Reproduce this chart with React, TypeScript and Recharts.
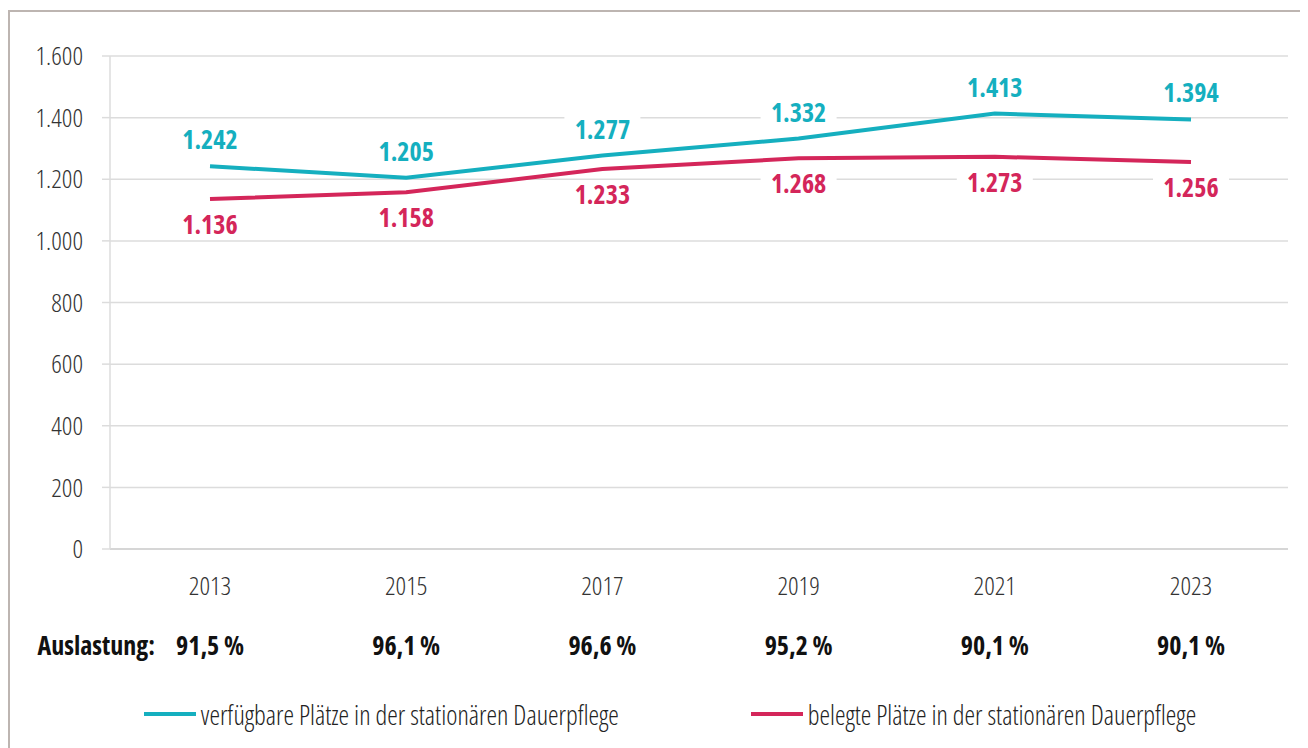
import React from "react";
import { LineChart, Line, XAxis, YAxis, CartesianGrid, Legend, LabelList } from "recharts";

const years = ["2013", "2015", "2017", "2019", "2021", "2023"];
const availablePlaces = [1242, 1205, 1277, 1332, 1413, 1394];
const occupiedPlaces = [1136, 1158, 1233, 1268, 1273, 1256];
const utilization = ["91,5 %", "96,1 %", "96,6 %", "95,2 %", "90,1 %", "90,1 %"];
const yTicks = [0, 200, 400, 600, 800, 1000, 1200, 1400, 1600];

const TEAL = "#15afbf";
const RED = "#d4265a";
const FONT = "'Open Sans', sans-serif";

const data = years.map((year, i) => ({
    year,
    available: availablePlaces[i],
    occupied: occupiedPlaces[i],
    utilization: utilization[i],
}));

const fmt = (v: number) => String(v).replace(/\B(?=(\d{3})+(?!\d))/g, ".");

// eslint-disable-next-line @typescript-eslint/no-explicit-any
const YearTick = ({ x, y, payload, index }: any) => (
    <g>
        <text x={x} y={y + 44} textAnchor="middle" fill="#333" fontSize={26} fontWeight={300}
            style={{ fontStretch: "condensed" }} fontFamily={FONT}>
            {payload.value}
        </text>
        <text x={x} y={y + 104} textAnchor="middle" fill="#111" fontSize={26} fontWeight={700}
            style={{ fontStretch: "condensed" }} fontFamily={FONT}>
            {data[index]?.utilization}
        </text>
        {index === 0 && (
            <text x={x - 55} y={y + 104} textAnchor="end" fill="#111" fontSize={26} fontWeight={700}
                style={{ fontStretch: "condensed" }} fontFamily={FONT}>
                Auslastung:
            </text>
        )}
    </g>
);

const makeLabel = (color: string, dy: number) => {
    // eslint-disable-next-line @typescript-eslint/no-explicit-any
    return ({ x, y, value }: any) => (
        <g>
            <rect x={x - 38} y={y + dy - 15} width={76} height={30} fill="#fff" />
            <text x={x} y={y + dy + 9} textAnchor="middle" fill={color} fontSize={26} fontWeight={700}
                style={{ fontStretch: "condensed" }} fontFamily={FONT}>
                {fmt(value)}
            </text>
        </g>
    );
};

const LegendContent = () => (
    <div style={{ display: "flex", justifyContent: "center", gap: 132, fontFamily: FONT, fontSize: 26.7, fontWeight: 300, fontStretch: "condensed", color: "#222", paddingLeft: 22 }}>
        {[
            { color: TEAL, text: "verfügbare Plätze in der stationären Dauerpflege" },
            { color: RED, text: "belegte Plätze in der stationären Dauerpflege" },
        ].map((item) => (
            <div key={item.text} style={{ display: "flex", alignItems: "center", height: 50, whiteSpace: "nowrap" }}>
                <span style={{ display: "inline-block", width: 52, height: 4, background: item.color, marginRight: 5 }} />
                <span>{item.text}</span>
            </div>
        ))}
    </div>
);

export default function App() {
    return (
        <div style={{ position: "relative", width: 1300, height: 740, overflow: "hidden" }}>
            <div style={{ position: "absolute", left: 0, top: 2, width: 1330, height: 760, border: "2px solid #bdb5b1", boxSizing: "border-box" }} />
            <LineChart width={1300} height={740} data={data} margin={{ top: 48, right: 20, left: 22, bottom: 9 }}
                style={{ position: "absolute", left: 0, top: 0 }}>
                <CartesianGrid vertical={false} stroke="#dcdcdc" strokeWidth={1.5} />
                <XAxis dataKey="year" axisLine={{ stroke: "#d0d0d0", strokeWidth: 1.5 }} tickLine={false} tickSize={0}
                    height={140} interval={0} padding={{ left: 100, right: 97 }} tick={<YearTick />} />
                <YAxis domain={[0, 1600]} ticks={yTicks} width={80} tickSize={8} tickMargin={19}
                    axisLine={{ stroke: "#dcdcdc", strokeWidth: 1.5 }} tickLine={{ stroke: "#dcdcdc", strokeWidth: 1.5 }}
                    tickFormatter={fmt}
                    tick={{ fill: "#333", fontSize: 26, fontWeight: 300, fontFamily: FONT, style: { fontStretch: "condensed" } }} />
                <Legend verticalAlign="bottom" height={50} content={<LegendContent />} />
                <Line dataKey="occupied" stroke={RED} strokeWidth={4} dot={false} isAnimationActive={false}>
                    <LabelList dataKey="occupied" content={makeLabel(RED, 26)} />
                </Line>
                <Line dataKey="available" stroke={TEAL} strokeWidth={4} dot={false} isAnimationActive={false}>
                    <LabelList dataKey="available" content={makeLabel(TEAL, -26)} />
                </Line>
            </LineChart>
        </div>
    );
}
